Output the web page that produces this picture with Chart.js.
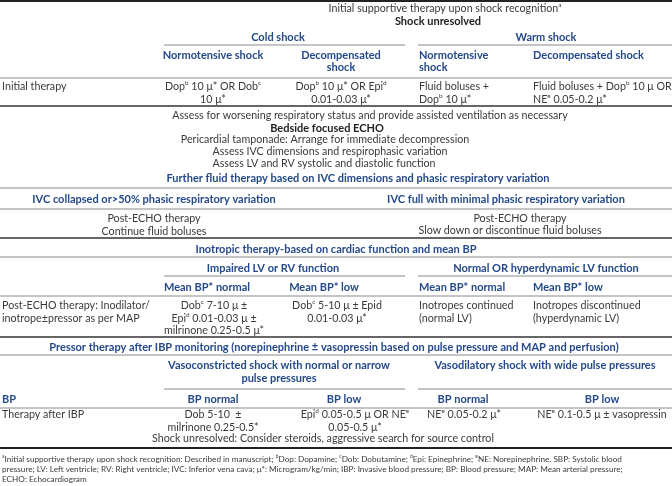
<!DOCTYPE html>
<html>
<head>
<meta charset="utf-8">
<script src="https://cdn.jsdelivr.net/npm/chart.js@4.4.1/dist/chart.umd.min.js"></script>
<style>
  html, body { margin: 0; padding: 0; background: #fff; }
  #wrap { width: 672px; height: 486px; }
</style>
</head>
<body>
<div id="wrap"><canvas id="tbl" width="672" height="486"></canvas></div>
<script>
// table content ({x} = superscript letter)
const topNotes = ['Initial supportive therapy upon shock recognition{a}', 'Shock unresolved'];
const shockGroups = ['Cold shock', 'Warm shock'];
const shockColumns = [['Normotensive shock'], ['Decompensated', 'shock'], ['Normotensive', 'shock'], ['Decompensated shock']];
const initialRowLabel = 'Initial therapy';
const initialTherapy = [
  ['Dop{b} 10 μ* OR Dob{c}', '10 μ*'],
  ['Dop{b} 10 μ* OR Epi{d}', '0.01-0.03 μ*'],
  ['Fluid boluses +', 'Dop{b} 10 μ*'],
  ['Fluid boluses + Dop{b} 10 μ OR', 'NE{e} 0.05-0.2 μ*']
];
const ventNote = 'Assess for worsening respiratory status and provide assisted ventilation as necessary';
const echoTitle = 'Bedside focused ECHO';
const echoSteps = [
  'Pericardial tamponade: Arrange for immediate decompression',
  'Assess IVC dimensions and respirophasic variation',
  'Assess LV and RV systolic and diastolic function'
];
const fluidTitle = 'Further fluid therapy based on IVC dimensions and phasic respiratory variation';
const ivcGroups = ['IVC collapsed or>50% phasic respiratory variation', 'IVC full with minimal phasic respiratory variation'];
const fluidTherapy = [
  ['Post-ECHO therapy', 'Continue fluid boluses'],
  ['Post-ECHO therapy', 'Slow down or discontinue fluid boluses']
];
const inoTitle = 'Inotropic therapy-based on cardiac function and mean BP';
const lvGroups = ['Impaired LV or RV function', 'Normal OR hyperdynamic LV function'];
const mapColumns = ['Mean BP* normal', 'Mean BP* low', 'Mean BP* normal', 'Mean BP* low'];
const inoRowLabel = ['Post-ECHO therapy: Inodilator/', 'inotrope±pressor as per MAP'];
const inoTherapy = [
  ['Dob{c} 7-10 μ ±', 'Epi{d} 0.01-0.03 μ ±', 'milrinone 0.25-0.5 μ*'],
  ['Dob{c} 5-10 μ ± Epid', '0.01-0.03 μ*'],
  ['Inotropes continued', '(normal LV)'],
  ['Inotropes discontinued', '(hyperdynamic LV)']
];
const pressorTitle = 'Pressor therapy after IBP monitoring (norepinephrine ± vasopressin based on pulse pressure and MAP and perfusion)';
const pulseGroups = [['Vasoconstricted shock with normal or narrow', 'pulse pressures'], ['Vasodilatory shock with wide pulse pressures']];
const bpRowLabel = 'BP';
const bpColumns = ['BP normal', 'BP low', 'BP normal', 'BP low'];
const pressorRowLabel = 'Therapy after IBP';
const pressorTherapy = [
  ['Dob 5-10  ±', 'milrinone 0.25-0.5*'],
  ['Epi{d} 0.05-0.5 μ OR NE{e}', '0.05-0.5 μ*'],
  ['NE{e} 0.05-0.2 μ*'],
  ['NE{e} 0.1-0.5 μ ± vasopressin']
];
const finalNote = 'Shock unresolved: Consider steroids, aggressive search for source control';
const footnotes = [
  '{a}Initial supportive therapy upon shock recognition: Described in manuscript; {b}Dop: Dopamine; {c}Dob: Dobutamine; {d}Epi: Epinephrine; {e}NE: Norepinephrine. SBP: Systolic blood',
  'pressure; LV: Left ventricle; RV: Right ventricle; IVC: Inferior vena cava; μ*: Microgram/kg/min; IBP: Invasive blood pressure; BP: Blood pressure; MAP: Mean arterial pressure;',
  'ECHO: Echocardiogram'
];

const TEXT = '#3a3a3a';
const BLUE = '#24498a';
const FONT = 'Lato, "Open Sans", sans-serif';
const LH = 12.5;

// layout: queue of texts and rules in table units (0..672 x 0..486)
const texts = [];
const rules = [];
function put(lines, x, y, opt = {}) {
  [].concat(lines).forEach((t, i) => texts.push({ t, x, y: y + i * (opt.lh || LH), ...opt }));
}
function rule(y, x0 = 0, x1 = 672, w = 1, c = '#8a8a8a') { rules.push({ y, x0, x1, w, c }); }

const head = { bold: true, color: BLUE };
const colC = [213, 341];      // centred cold-shock columns
const colL = [419, 533];      // left aligned warm-shock columns

rule(1, 0, 672, 2, '#222');
put(topNotes[0], 445, 9, { align: 'center' });
put(topNotes[1], 438, 21, { align: 'center', bold: true, color: '#222' });
put(shockGroups[0], 278, 37, { align: 'center', ...head });
put(shockGroups[1], 546, 37, { align: 'center', ...head });
rule(45, 164, 405); rule(45, 418, 672);
put(shockColumns[0], colC[0], 55, { align: 'center', ...head });
put(shockColumns[1], colC[1], 55, { align: 'center', ...head });
put(shockColumns[2], colL[0], 55, head);
put(shockColumns[3], colL[1], 55, head);
rule(78);
put(initialRowLabel, 2, 87);
put(initialTherapy[0], colC[0], 87, { align: 'center' });
put(initialTherapy[1], colC[1], 87, { align: 'center' });
put(initialTherapy[2], colL[0], 87);
put(initialTherapy[3], colL[1], 87);
rule(106, 0, 672, 1.6, '#333');
put(ventNote, 370, 116, { align: 'center' });
put(echoTitle, 327, 128, { align: 'center', bold: true, color: '#222' });
put(echoSteps[0], 325, 140, { align: 'center' });
put(echoSteps[1], 330, 152, { align: 'center' });
put(echoSteps[2], 324, 164, { align: 'center' });
put(fluidTitle, 358, 178, { align: 'center', ...head });
rule(188);
put(ivcGroups[0], 154, 199, { align: 'center', ...head });
put(ivcGroups[1], 506, 199, { align: 'center', ...head });
rule(209);
put(fluidTherapy[0], 154, 219, { align: 'center' });
put(fluidTherapy[1][0], 520, 219, { align: 'center' });
put(fluidTherapy[1][1], 510, 231, { align: 'center' });
rule(238, 0, 672, 1.6, '#333');
put(inoTitle, 336, 249, { align: 'center', ...head });
rule(257);
put(lvGroups[0], 273, 268, { align: 'center', ...head });
put(lvGroups[1], 546, 268, { align: 'center', ...head });
rule(276, 164, 405); rule(276, 418, 672);
put(mapColumns[0], 207, 287, { align: 'center', ...head });
put(mapColumns[1], 324, 287, { align: 'center', ...head });
put(mapColumns[2], colL[0], 287, head);
put(mapColumns[3], colL[1], 287, head);
rule(296);
put(inoRowLabel, 2, 306);
put(inoTherapy[0], 214, 306, { align: 'center' });
put(inoTherapy[1], 337, 306, { align: 'center' });
put(inoTherapy[2], colL[0], 306);
put(inoTherapy[3], colL[1], 306);
rule(337, 0, 672, 1.6, '#333');
put(pressorTitle, 334, 347, { align: 'center', ...head });
rule(355);
put(pulseGroups[0], 279, 365, { align: 'center', ...head, lh: 13 });
put(pulseGroups[1], 545, 365, { align: 'center', ...head });
rule(389, 164, 405); rule(389, 418, 672);
put(bpRowLabel, 2, 399, head);
put(bpColumns[0], 213, 399, { align: 'center', ...head });
put(bpColumns[1], 344, 399, { align: 'center', ...head });
put(bpColumns[2], 463, 399, { align: 'center', ...head });
put(bpColumns[3], 602, 399, { align: 'center', ...head });
rule(408);
put(pressorRowLabel, 2, 415);
put(pressorTherapy[0], 213, 415, { align: 'center' });
put(pressorTherapy[1], 355, 415, { align: 'center' });
put(pressorTherapy[2], 464, 415, { align: 'center' });
put(pressorTherapy[3], 602, 415, { align: 'center' });
put(finalNote, 323, 439, { align: 'center' });
rule(448, 0, 672, 2.2, '#222');
put(footnotes, 2, 459, { size: 8.2, lh: 10 });

// draws text with {x} superscripts
function drawRich(ctx, str, px, py, o) {
  const size = o.size || (o.bold ? 11 : 10.7);
  const weight = o.bold ? 'bold ' : '';
  const main = `${weight}${size}px ${FONT}`;
  const sup = `${weight}${(size * 0.6).toFixed(1)}px ${FONT}`;
  const parts = str.split(/(\{\w\})/).filter(s => s.length);
  const segs = parts.map(p => {
    const isSup = /^\{\w\}$/.test(p);
    const txt = isSup ? p.slice(1, -1) : p;
    ctx.font = isSup ? sup : main;
    return { txt, isSup, w: ctx.measureText(txt).width };
  });
  const total = segs.reduce((a, s) => a + s.w, 0);
  let x = o.align === 'center' ? px - total / 2 : px;
  ctx.fillStyle = o.color || TEXT;
  ctx.textBaseline = 'middle';
  ctx.textAlign = 'left';
  segs.forEach(s => {
    ctx.font = s.isSup ? sup : main;
    ctx.fillText(s.txt, x, s.isSup ? py - size * 0.35 : py);
    x += s.w;
  });
}

const tablePlugin = {
  id: 'tablePlugin',
  afterDraw(chart) {
    const { ctx, scales: { x: sx, y: sy } } = chart;
    ctx.save();
    rules.forEach(r => {
      const y = sy.getPixelForValue(r.y);
      ctx.beginPath();
      ctx.strokeStyle = r.c;
      ctx.lineWidth = r.w;
      ctx.moveTo(sx.getPixelForValue(r.x0), y);
      ctx.lineTo(sx.getPixelForValue(r.x1), y);
      ctx.stroke();
    });
    texts.forEach(t => drawRich(ctx, t.t, sx.getPixelForValue(t.x), sy.getPixelForValue(t.y), t));
    ctx.restore();
  }
};

new Chart(document.getElementById('tbl'), {
  type: 'scatter',
  data: { datasets: [{ data: [] }] },
  options: {
    responsive: false,
    animation: false,
    layout: { padding: 0 },
    plugins: { legend: { display: false }, tooltip: { enabled: false } },
    scales: {
      x: { type: 'linear', min: 0, max: 672, display: false },
      y: { type: 'linear', min: 0, max: 486, reverse: true, display: false }
    }
  },
  plugins: [tablePlugin]
});
</script>
</body>
</html>
